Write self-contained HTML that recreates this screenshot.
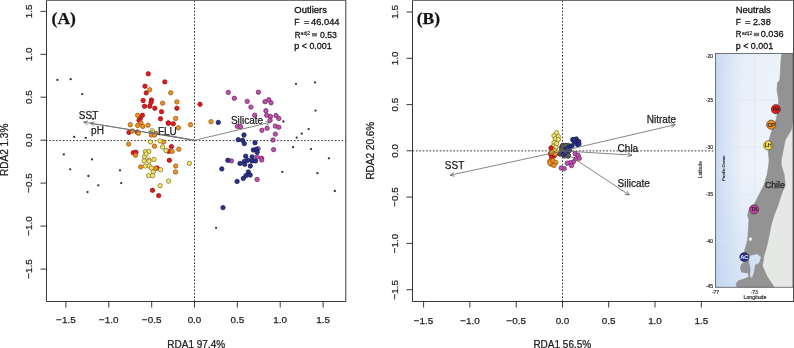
<!DOCTYPE html><html><head><meta charset="utf-8"><style>html,body{margin:0;padding:0;background:#fff;overflow:hidden;width:794px;height:348px;}svg{display:block;will-change:transform;}text{font-family:"Liberation Sans",sans-serif;stroke:#222;stroke-width:0.25;}</style></head><body>
<svg width="794" height="348" viewBox="0 0 794 348">
<rect width="794" height="348" fill="#fff"/>
<line x1="46.5" y1="140.6" x2="345.8" y2="140.6" stroke="#3a3a3a" stroke-width="1" stroke-dasharray="1.7 1.7" stroke-dashoffset="0.75"/>
<line x1="194.5" y1="0.5" x2="194.5" y2="301.5" stroke="#3a3a3a" stroke-width="1" stroke-dasharray="1.7 1.7"/>
<circle cx="57.4" cy="79.9" r="1.15" fill="#333"/>
<circle cx="70.7" cy="79.2" r="1.15" fill="#333"/>
<circle cx="82.2" cy="94.1" r="1.15" fill="#333"/>
<circle cx="93.0" cy="118.8" r="1.15" fill="#333"/>
<circle cx="74.2" cy="136.9" r="1.15" fill="#333"/>
<circle cx="85.8" cy="137.8" r="1.15" fill="#333"/>
<circle cx="63.8" cy="154.4" r="1.15" fill="#333"/>
<circle cx="92.0" cy="159.4" r="1.15" fill="#333"/>
<circle cx="70.2" cy="169.3" r="1.15" fill="#333"/>
<circle cx="120.0" cy="170.3" r="1.15" fill="#333"/>
<circle cx="88.4" cy="176.0" r="1.15" fill="#333"/>
<circle cx="98.3" cy="185.3" r="1.15" fill="#333"/>
<circle cx="121.2" cy="183.1" r="1.15" fill="#333"/>
<circle cx="87.5" cy="192.1" r="1.15" fill="#333"/>
<circle cx="216.1" cy="227.8" r="1.15" fill="#333"/>
<circle cx="296.0" cy="83.8" r="1.15" fill="#333"/>
<circle cx="315.0" cy="82.4" r="1.15" fill="#333"/>
<circle cx="315.5" cy="110.6" r="1.15" fill="#333"/>
<circle cx="283.4" cy="121.5" r="1.15" fill="#333"/>
<circle cx="308.7" cy="129.1" r="1.15" fill="#333"/>
<circle cx="301.8" cy="133.7" r="1.15" fill="#333"/>
<circle cx="296.7" cy="137.6" r="1.15" fill="#333"/>
<circle cx="293.0" cy="147.2" r="1.15" fill="#333"/>
<circle cx="311.0" cy="149.1" r="1.15" fill="#333"/>
<circle cx="328.9" cy="158.3" r="1.15" fill="#333"/>
<circle cx="282.3" cy="171.8" r="1.15" fill="#333"/>
<circle cx="317.4" cy="173.2" r="1.15" fill="#333"/>
<circle cx="334.8" cy="191.0" r="1.15" fill="#333"/>
<circle cx="148.3" cy="73.8" r="2.2" fill="#e5171f" stroke="#8a1a14" stroke-width="0.75"/>
<circle cx="164.8" cy="81.9" r="2.2" fill="#e5171f" stroke="#8a1a14" stroke-width="0.75"/>
<circle cx="145.0" cy="86.2" r="2.2" fill="#e5171f" stroke="#8a1a14" stroke-width="0.75"/>
<circle cx="146.2" cy="92.9" r="2.2" fill="#e5171f" stroke="#8a1a14" stroke-width="0.75"/>
<circle cx="143.1" cy="100.5" r="2.2" fill="#e5171f" stroke="#8a1a14" stroke-width="0.75"/>
<circle cx="151.4" cy="100.0" r="2.2" fill="#e5171f" stroke="#8a1a14" stroke-width="0.75"/>
<circle cx="151.0" cy="102.5" r="2.2" fill="#e5171f" stroke="#8a1a14" stroke-width="0.75"/>
<circle cx="144.5" cy="106.2" r="2.2" fill="#e5171f" stroke="#8a1a14" stroke-width="0.75"/>
<circle cx="149.7" cy="106.2" r="2.2" fill="#e5171f" stroke="#8a1a14" stroke-width="0.75"/>
<circle cx="154.8" cy="108.3" r="2.2" fill="#e5171f" stroke="#8a1a14" stroke-width="0.75"/>
<circle cx="161.5" cy="111.7" r="2.2" fill="#e5171f" stroke="#8a1a14" stroke-width="0.75"/>
<circle cx="142.4" cy="115.3" r="2.2" fill="#e5171f" stroke="#8a1a14" stroke-width="0.75"/>
<circle cx="160.5" cy="118.8" r="2.2" fill="#e5171f" stroke="#8a1a14" stroke-width="0.75"/>
<circle cx="140.2" cy="118.6" r="2.2" fill="#e5171f" stroke="#8a1a14" stroke-width="0.75"/>
<circle cx="139.0" cy="120.3" r="2.2" fill="#e5171f" stroke="#8a1a14" stroke-width="0.75"/>
<circle cx="168.3" cy="122.9" r="2.2" fill="#e5171f" stroke="#8a1a14" stroke-width="0.75"/>
<circle cx="176.9" cy="108.3" r="2.2" fill="#e5171f" stroke="#8a1a14" stroke-width="0.75"/>
<circle cx="200.0" cy="104.3" r="2.2" fill="#e5171f" stroke="#8a1a14" stroke-width="0.75"/>
<circle cx="129.0" cy="132.4" r="2.2" fill="#e5171f" stroke="#8a1a14" stroke-width="0.75"/>
<circle cx="137.2" cy="132.0" r="2.2" fill="#e5171f" stroke="#8a1a14" stroke-width="0.75"/>
<circle cx="168.4" cy="123.3" r="2.2" fill="#e5171f" stroke="#8a1a14" stroke-width="0.75"/>
<circle cx="173.3" cy="123.8" r="2.2" fill="#e5171f" stroke="#8a1a14" stroke-width="0.75"/>
<circle cx="171.4" cy="146.6" r="2.2" fill="#e5171f" stroke="#8a1a14" stroke-width="0.75"/>
<circle cx="168.6" cy="151.4" r="2.2" fill="#e5171f" stroke="#8a1a14" stroke-width="0.75"/>
<circle cx="133.3" cy="152.8" r="2.2" fill="#e5171f" stroke="#8a1a14" stroke-width="0.75"/>
<circle cx="135.9" cy="152.2" r="2.2" fill="#e5171f" stroke="#8a1a14" stroke-width="0.75"/>
<circle cx="169.3" cy="160.3" r="2.2" fill="#e5171f" stroke="#8a1a14" stroke-width="0.75"/>
<circle cx="157.1" cy="168.0" r="2.2" fill="#e5171f" stroke="#8a1a14" stroke-width="0.75"/>
<circle cx="152.5" cy="190.3" r="2.2" fill="#e5171f" stroke="#8a1a14" stroke-width="0.75"/>
<circle cx="158.7" cy="195.6" r="2.2" fill="#e5171f" stroke="#8a1a14" stroke-width="0.75"/>
<circle cx="149.7" cy="89.7" r="2.2" fill="#f5901d" stroke="#8c5a1a" stroke-width="0.75"/>
<circle cx="170.7" cy="92.8" r="2.2" fill="#f5901d" stroke="#8c5a1a" stroke-width="0.75"/>
<circle cx="162.6" cy="103.1" r="2.2" fill="#f5901d" stroke="#8c5a1a" stroke-width="0.75"/>
<circle cx="176.9" cy="101.9" r="2.2" fill="#f5901d" stroke="#8c5a1a" stroke-width="0.75"/>
<circle cx="137.6" cy="115.3" r="2.2" fill="#f5901d" stroke="#8c5a1a" stroke-width="0.75"/>
<circle cx="175.6" cy="118.5" r="2.2" fill="#f5901d" stroke="#8c5a1a" stroke-width="0.75"/>
<circle cx="130.3" cy="124.7" r="2.2" fill="#f5901d" stroke="#8c5a1a" stroke-width="0.75"/>
<circle cx="137.6" cy="125.5" r="2.2" fill="#f5901d" stroke="#8c5a1a" stroke-width="0.75"/>
<circle cx="141.0" cy="123.0" r="2.2" fill="#f5901d" stroke="#8c5a1a" stroke-width="0.75"/>
<circle cx="142.8" cy="126.4" r="2.2" fill="#f5901d" stroke="#8c5a1a" stroke-width="0.75"/>
<circle cx="148.0" cy="125.2" r="2.2" fill="#f5901d" stroke="#8c5a1a" stroke-width="0.75"/>
<circle cx="132.4" cy="131.0" r="2.2" fill="#f5901d" stroke="#8c5a1a" stroke-width="0.75"/>
<circle cx="138.4" cy="133.3" r="2.2" fill="#f5901d" stroke="#8c5a1a" stroke-width="0.75"/>
<circle cx="151.4" cy="135.0" r="2.2" fill="#f5901d" stroke="#8c5a1a" stroke-width="0.75"/>
<circle cx="155.7" cy="133.3" r="2.2" fill="#f5901d" stroke="#8c5a1a" stroke-width="0.75"/>
<circle cx="154.5" cy="135.0" r="2.2" fill="#f5901d" stroke="#8c5a1a" stroke-width="0.75"/>
<circle cx="163.4" cy="141.9" r="2.2" fill="#f5901d" stroke="#8c5a1a" stroke-width="0.75"/>
<circle cx="128.6" cy="144.1" r="2.2" fill="#f5901d" stroke="#8c5a1a" stroke-width="0.75"/>
<circle cx="154.5" cy="146.2" r="2.2" fill="#f5901d" stroke="#8c5a1a" stroke-width="0.75"/>
<circle cx="135.5" cy="155.2" r="2.2" fill="#f5901d" stroke="#8c5a1a" stroke-width="0.75"/>
<circle cx="140.7" cy="166.9" r="2.2" fill="#f5901d" stroke="#8c5a1a" stroke-width="0.75"/>
<circle cx="155.7" cy="168.3" r="2.2" fill="#f5901d" stroke="#8c5a1a" stroke-width="0.75"/>
<circle cx="178.4" cy="127.8" r="2.2" fill="#f5901d" stroke="#8c5a1a" stroke-width="0.75"/>
<circle cx="190.5" cy="124.7" r="2.2" fill="#f5901d" stroke="#8c5a1a" stroke-width="0.75"/>
<circle cx="211.0" cy="121.7" r="2.2" fill="#f5901d" stroke="#8c5a1a" stroke-width="0.75"/>
<circle cx="178.8" cy="149.3" r="2.2" fill="#f5901d" stroke="#8c5a1a" stroke-width="0.75"/>
<circle cx="172.2" cy="151.4" r="2.2" fill="#f5901d" stroke="#8c5a1a" stroke-width="0.75"/>
<circle cx="175.7" cy="166.0" r="2.2" fill="#f5901d" stroke="#8c5a1a" stroke-width="0.75"/>
<circle cx="175.5" cy="172.0" r="2.2" fill="#f5901d" stroke="#8c5a1a" stroke-width="0.75"/>
<circle cx="152.2" cy="130.7" r="2.2" fill="#f5e56c" stroke="#7d7428" stroke-width="0.75"/>
<circle cx="150.5" cy="141.9" r="2.2" fill="#f5e56c" stroke="#7d7428" stroke-width="0.75"/>
<circle cx="160.0" cy="141.0" r="2.2" fill="#f5e56c" stroke="#7d7428" stroke-width="0.75"/>
<circle cx="162.6" cy="147.0" r="2.2" fill="#f5e56c" stroke="#7d7428" stroke-width="0.75"/>
<circle cx="166.0" cy="150.5" r="2.2" fill="#f5e56c" stroke="#7d7428" stroke-width="0.75"/>
<circle cx="145.3" cy="151.7" r="2.2" fill="#f5e56c" stroke="#7d7428" stroke-width="0.75"/>
<circle cx="148.8" cy="151.4" r="2.2" fill="#f5e56c" stroke="#7d7428" stroke-width="0.75"/>
<circle cx="144.5" cy="156.6" r="2.2" fill="#f5e56c" stroke="#7d7428" stroke-width="0.75"/>
<circle cx="146.2" cy="154.0" r="2.2" fill="#f5e56c" stroke="#7d7428" stroke-width="0.75"/>
<circle cx="148.8" cy="160.0" r="2.2" fill="#f5e56c" stroke="#7d7428" stroke-width="0.75"/>
<circle cx="154.0" cy="159.5" r="2.2" fill="#f5e56c" stroke="#7d7428" stroke-width="0.75"/>
<circle cx="144.1" cy="160.9" r="2.2" fill="#f5e56c" stroke="#7d7428" stroke-width="0.75"/>
<circle cx="145.3" cy="166.0" r="2.2" fill="#f5e56c" stroke="#7d7428" stroke-width="0.75"/>
<circle cx="149.3" cy="166.0" r="2.2" fill="#f5e56c" stroke="#7d7428" stroke-width="0.75"/>
<circle cx="189.4" cy="163.4" r="2.2" fill="#f5e56c" stroke="#7d7428" stroke-width="0.75"/>
<circle cx="149.0" cy="161.1" r="2.2" fill="#f5e56c" stroke="#7d7428" stroke-width="0.75"/>
<circle cx="151.4" cy="168.0" r="2.2" fill="#f5e56c" stroke="#7d7428" stroke-width="0.75"/>
<circle cx="160.6" cy="169.7" r="2.2" fill="#f5e56c" stroke="#7d7428" stroke-width="0.75"/>
<circle cx="153.2" cy="172.0" r="2.2" fill="#f5e56c" stroke="#7d7428" stroke-width="0.75"/>
<circle cx="148.6" cy="175.6" r="2.2" fill="#f5e56c" stroke="#7d7428" stroke-width="0.75"/>
<circle cx="152.5" cy="175.6" r="2.2" fill="#f5e56c" stroke="#7d7428" stroke-width="0.75"/>
<circle cx="168.6" cy="181.1" r="2.2" fill="#f5e56c" stroke="#7d7428" stroke-width="0.75"/>
<circle cx="160.1" cy="185.7" r="2.2" fill="#f5e56c" stroke="#7d7428" stroke-width="0.75"/>
<circle cx="228.3" cy="92.4" r="2.2" fill="#c14fae" stroke="#6e2a66" stroke-width="0.75"/>
<circle cx="258.4" cy="92.2" r="2.2" fill="#c14fae" stroke="#6e2a66" stroke-width="0.75"/>
<circle cx="234.3" cy="98.3" r="2.2" fill="#c14fae" stroke="#6e2a66" stroke-width="0.75"/>
<circle cx="247.2" cy="101.4" r="2.2" fill="#c14fae" stroke="#6e2a66" stroke-width="0.75"/>
<circle cx="265.0" cy="101.7" r="2.2" fill="#c14fae" stroke="#6e2a66" stroke-width="0.75"/>
<circle cx="268.8" cy="99.7" r="2.2" fill="#c14fae" stroke="#6e2a66" stroke-width="0.75"/>
<circle cx="271.0" cy="102.8" r="2.2" fill="#c14fae" stroke="#6e2a66" stroke-width="0.75"/>
<circle cx="250.9" cy="107.1" r="2.2" fill="#c14fae" stroke="#6e2a66" stroke-width="0.75"/>
<circle cx="265.9" cy="110.7" r="2.2" fill="#c14fae" stroke="#6e2a66" stroke-width="0.75"/>
<circle cx="254.7" cy="115.2" r="2.2" fill="#c14fae" stroke="#6e2a66" stroke-width="0.75"/>
<circle cx="266.7" cy="115.2" r="2.2" fill="#c14fae" stroke="#6e2a66" stroke-width="0.75"/>
<circle cx="270.5" cy="116.4" r="2.2" fill="#c14fae" stroke="#6e2a66" stroke-width="0.75"/>
<circle cx="276.0" cy="115.6" r="2.2" fill="#c14fae" stroke="#6e2a66" stroke-width="0.75"/>
<circle cx="278.8" cy="118.5" r="2.2" fill="#c14fae" stroke="#6e2a66" stroke-width="0.75"/>
<circle cx="270.1" cy="120.3" r="2.2" fill="#c14fae" stroke="#6e2a66" stroke-width="0.75"/>
<circle cx="237.4" cy="126.4" r="2.2" fill="#c14fae" stroke="#6e2a66" stroke-width="0.75"/>
<circle cx="240.5" cy="126.7" r="2.2" fill="#c14fae" stroke="#6e2a66" stroke-width="0.75"/>
<circle cx="261.9" cy="130.3" r="2.2" fill="#c14fae" stroke="#6e2a66" stroke-width="0.75"/>
<circle cx="267.1" cy="128.2" r="2.2" fill="#c14fae" stroke="#6e2a66" stroke-width="0.75"/>
<circle cx="275.3" cy="126.1" r="2.2" fill="#c14fae" stroke="#6e2a66" stroke-width="0.75"/>
<circle cx="278.8" cy="127.2" r="2.2" fill="#c14fae" stroke="#6e2a66" stroke-width="0.75"/>
<circle cx="275.3" cy="134.1" r="2.2" fill="#c14fae" stroke="#6e2a66" stroke-width="0.75"/>
<circle cx="273.0" cy="140.0" r="2.2" fill="#c14fae" stroke="#6e2a66" stroke-width="0.75"/>
<circle cx="258.1" cy="148.8" r="2.2" fill="#c14fae" stroke="#6e2a66" stroke-width="0.75"/>
<circle cx="273.6" cy="149.6" r="2.2" fill="#c14fae" stroke="#6e2a66" stroke-width="0.75"/>
<circle cx="261.6" cy="158.3" r="2.2" fill="#c14fae" stroke="#6e2a66" stroke-width="0.75"/>
<circle cx="257.2" cy="156.9" r="2.2" fill="#c14fae" stroke="#6e2a66" stroke-width="0.75"/>
<circle cx="231.4" cy="160.9" r="2.2" fill="#c14fae" stroke="#6e2a66" stroke-width="0.75"/>
<circle cx="257.1" cy="179.5" r="2.2" fill="#c14fae" stroke="#6e2a66" stroke-width="0.75"/>
<circle cx="261.7" cy="160.0" r="2.2" fill="#c14fae" stroke="#6e2a66" stroke-width="0.75"/>
<circle cx="218.3" cy="122.4" r="2.2" fill="#2b3190" stroke="#181b4a" stroke-width="0.75"/>
<circle cx="244.0" cy="135.0" r="2.2" fill="#2b3190" stroke="#181b4a" stroke-width="0.75"/>
<circle cx="238.3" cy="139.7" r="2.2" fill="#2b3190" stroke="#181b4a" stroke-width="0.75"/>
<circle cx="242.6" cy="140.2" r="2.2" fill="#2b3190" stroke="#181b4a" stroke-width="0.75"/>
<circle cx="244.3" cy="143.6" r="2.2" fill="#2b3190" stroke="#181b4a" stroke-width="0.75"/>
<circle cx="255.0" cy="142.8" r="2.2" fill="#2b3190" stroke="#181b4a" stroke-width="0.75"/>
<circle cx="253.3" cy="150.0" r="2.2" fill="#2b3190" stroke="#181b4a" stroke-width="0.75"/>
<circle cx="256.4" cy="149.3" r="2.2" fill="#2b3190" stroke="#181b4a" stroke-width="0.75"/>
<circle cx="257.2" cy="152.2" r="2.2" fill="#2b3190" stroke="#181b4a" stroke-width="0.75"/>
<circle cx="245.7" cy="156.2" r="2.2" fill="#2b3190" stroke="#181b4a" stroke-width="0.75"/>
<circle cx="252.1" cy="156.9" r="2.2" fill="#2b3190" stroke="#181b4a" stroke-width="0.75"/>
<circle cx="247.8" cy="160.3" r="2.2" fill="#2b3190" stroke="#181b4a" stroke-width="0.75"/>
<circle cx="252.1" cy="160.9" r="2.2" fill="#2b3190" stroke="#181b4a" stroke-width="0.75"/>
<circle cx="255.5" cy="160.9" r="2.2" fill="#2b3190" stroke="#181b4a" stroke-width="0.75"/>
<circle cx="244.3" cy="161.4" r="2.2" fill="#2b3190" stroke="#181b4a" stroke-width="0.75"/>
<circle cx="227.9" cy="160.3" r="2.2" fill="#2b3190" stroke="#181b4a" stroke-width="0.75"/>
<circle cx="240.0" cy="163.4" r="2.2" fill="#2b3190" stroke="#181b4a" stroke-width="0.75"/>
<circle cx="244.7" cy="164.3" r="2.2" fill="#2b3190" stroke="#181b4a" stroke-width="0.75"/>
<circle cx="250.3" cy="166.0" r="2.2" fill="#2b3190" stroke="#181b4a" stroke-width="0.75"/>
<circle cx="221.8" cy="168.9" r="2.2" fill="#2b3190" stroke="#181b4a" stroke-width="0.75"/>
<circle cx="248.3" cy="172.0" r="2.2" fill="#2b3190" stroke="#181b4a" stroke-width="0.75"/>
<circle cx="246.0" cy="175.6" r="2.2" fill="#2b3190" stroke="#181b4a" stroke-width="0.75"/>
<circle cx="250.2" cy="175.0" r="2.2" fill="#2b3190" stroke="#181b4a" stroke-width="0.75"/>
<circle cx="243.3" cy="178.4" r="2.2" fill="#2b3190" stroke="#181b4a" stroke-width="0.75"/>
<circle cx="237.1" cy="181.4" r="2.2" fill="#2b3190" stroke="#181b4a" stroke-width="0.75"/>
<circle cx="223.0" cy="207.6" r="2.2" fill="#2b3190" stroke="#181b4a" stroke-width="0.75"/>
<line x1="194.5" y1="140.3" x2="83.6" y2="122.1" stroke="#707070" stroke-width="0.85"/>
<line x1="83.6" y1="122.1" x2="87.40" y2="124.69" stroke="#707070" stroke-width="0.9"/>
<line x1="83.6" y1="122.1" x2="88.03" y2="120.86" stroke="#707070" stroke-width="0.9"/>
<line x1="194.5" y1="140.3" x2="90.1" y2="123.1" stroke="#707070" stroke-width="0.85"/>
<line x1="90.1" y1="123.1" x2="93.90" y2="125.70" stroke="#707070" stroke-width="0.9"/>
<line x1="90.1" y1="123.1" x2="94.53" y2="121.86" stroke="#707070" stroke-width="0.9"/>
<line x1="194.5" y1="140.3" x2="148.6" y2="131.8" stroke="#707070" stroke-width="0.85"/>
<line x1="148.6" y1="131.8" x2="152.35" y2="134.47" stroke="#707070" stroke-width="0.9"/>
<line x1="148.6" y1="131.8" x2="153.05" y2="130.65" stroke="#707070" stroke-width="0.9"/>
<line x1="194.5" y1="140.3" x2="270.2" y2="122.4" stroke="#707070" stroke-width="0.85"/>
<line x1="270.2" y1="122.4" x2="265.70" y2="121.47" stroke="#707070" stroke-width="0.9"/>
<line x1="270.2" y1="122.4" x2="266.59" y2="125.25" stroke="#707070" stroke-width="0.9"/>
<text x="78.8" y="119.1" font-size="10" text-anchor="start" fill="#222" >SST</text>
<text x="91.1" y="133.8" font-size="10" text-anchor="start" fill="#222" >pH</text>
<text x="157.9" y="134.8" font-size="10" text-anchor="start" fill="#222" >FLU</text>
<text x="230.9" y="124.2" font-size="10" text-anchor="start" fill="#222" >Silicate</text>
<path d="M46.5,0.5 V301.5 H345.8 V0.5" fill="none" stroke="#383838" stroke-width="1"/>
<line x1="46.0" y1="0.5" x2="346.3" y2="0.5" stroke="#707070" stroke-width="1.1"/>
<line x1="65.9" y1="301.5" x2="65.9" y2="307.5" stroke="#383838" stroke-width="1"/>
<line x1="46.5" y1="269.1" x2="40.5" y2="269.1" stroke="#383838" stroke-width="1"/>
<text x="65.9" y="323.4" font-size="9.9" text-anchor="middle" fill="#222" >−1.5</text>
<text x="0" y="0" font-size="9.9" text-anchor="middle" fill="#222" transform="translate(32.1,269.1) rotate(-90)">−1.5</text>
<line x1="108.8" y1="301.5" x2="108.8" y2="307.5" stroke="#383838" stroke-width="1"/>
<line x1="46.5" y1="226.1" x2="40.5" y2="226.1" stroke="#383838" stroke-width="1"/>
<text x="108.8" y="323.4" font-size="9.9" text-anchor="middle" fill="#222" >−1.0</text>
<text x="0" y="0" font-size="9.9" text-anchor="middle" fill="#222" transform="translate(32.1,226.1) rotate(-90)">−1.0</text>
<line x1="151.7" y1="301.5" x2="151.7" y2="307.5" stroke="#383838" stroke-width="1"/>
<line x1="46.5" y1="183.1" x2="40.5" y2="183.1" stroke="#383838" stroke-width="1"/>
<text x="151.7" y="323.4" font-size="9.9" text-anchor="middle" fill="#222" >−0.5</text>
<text x="0" y="0" font-size="9.9" text-anchor="middle" fill="#222" transform="translate(32.1,183.1) rotate(-90)">−0.5</text>
<line x1="194.5" y1="301.5" x2="194.5" y2="307.5" stroke="#383838" stroke-width="1"/>
<line x1="46.5" y1="140.2" x2="40.5" y2="140.2" stroke="#383838" stroke-width="1"/>
<text x="194.5" y="323.4" font-size="9.9" text-anchor="middle" fill="#222" >0.0</text>
<text x="0" y="0" font-size="9.9" text-anchor="middle" fill="#222" transform="translate(32.1,140.2) rotate(-90)">0.0</text>
<line x1="237.3" y1="301.5" x2="237.3" y2="307.5" stroke="#383838" stroke-width="1"/>
<line x1="46.5" y1="97.2" x2="40.5" y2="97.2" stroke="#383838" stroke-width="1"/>
<text x="237.3" y="323.4" font-size="9.9" text-anchor="middle" fill="#222" >0.5</text>
<text x="0" y="0" font-size="9.9" text-anchor="middle" fill="#222" transform="translate(32.1,97.2) rotate(-90)">0.5</text>
<line x1="280.2" y1="301.5" x2="280.2" y2="307.5" stroke="#383838" stroke-width="1"/>
<line x1="46.5" y1="54.3" x2="40.5" y2="54.3" stroke="#383838" stroke-width="1"/>
<text x="280.2" y="323.4" font-size="9.9" text-anchor="middle" fill="#222" >1.0</text>
<text x="0" y="0" font-size="9.9" text-anchor="middle" fill="#222" transform="translate(32.1,54.3) rotate(-90)">1.0</text>
<line x1="323.1" y1="301.5" x2="323.1" y2="307.5" stroke="#383838" stroke-width="1"/>
<line x1="46.5" y1="11.3" x2="40.5" y2="11.3" stroke="#383838" stroke-width="1"/>
<text x="323.1" y="323.4" font-size="9.9" text-anchor="middle" fill="#222" >1.5</text>
<text x="0" y="0" font-size="9.9" text-anchor="middle" fill="#222" transform="translate(32.1,11.3) rotate(-90)">1.5</text>
<text x="0" y="0" font-size="10" text-anchor="middle" fill="#222" transform="translate(8.0,149.8) rotate(-90)">RDA2 1.3%</text>
<text x="196.2" y="347.9" font-size="10" text-anchor="middle" fill="#222" >RDA1 97.4%</text>
<text x="51.6" y="23.6" font-size="17.5" font-weight="bold" fill="#111" style="font-family:'Liberation Serif',serif">(A)</text>
<text x="294.3" y="13.4" font-size="9.8" textLength="32.6" lengthAdjust="spacingAndGlyphs" fill="#111" style="stroke:#111;stroke-width:0.3">Outliers</text>
<text x="294.3" y="25.3" font-size="9.8" textLength="5.3" lengthAdjust="spacingAndGlyphs" fill="#111" style="stroke:#111;stroke-width:0.3">F</text>
<text x="304" y="25.3" font-size="9.8" textLength="5.2" lengthAdjust="spacingAndGlyphs" fill="#111" style="stroke:#111;stroke-width:0.3">=</text>
<text x="311" y="25.3" font-size="9.8" textLength="28.5" lengthAdjust="spacingAndGlyphs" fill="#111" style="stroke:#111;stroke-width:0.3">46.044</text>
<text x="294.7" y="37.6" font-size="9.8" textLength="5.7" lengthAdjust="spacingAndGlyphs" fill="#111" style="stroke:#111;stroke-width:0.3">R</text>
<text x="300.6" y="34.7" font-size="5.2" textLength="9.6" lengthAdjust="spacingAndGlyphs" fill="#111" style="stroke:#111;stroke-width:0.1">adj2</text>
<rect x="312" y="33" width="5" height="3.4" fill="#777"/>
<text x="319.9" y="37.6" font-size="9.8" textLength="17.0" lengthAdjust="spacingAndGlyphs" fill="#111" style="stroke:#111;stroke-width:0.3">0.53</text>
<text x="294.3" y="49.3" font-size="9.8" textLength="37.4" lengthAdjust="spacingAndGlyphs" fill="#111" style="stroke:#111;stroke-width:0.3">p &lt; 0.001</text>
<line x1="412.5" y1="150.9" x2="715.5" y2="150.9" stroke="#3a3a3a" stroke-width="1" stroke-dasharray="1.7 1.7"/>
<line x1="562.5" y1="0.5" x2="562.5" y2="301.5" stroke="#3a3a3a" stroke-width="1" stroke-dasharray="1.7 1.7"/>
<circle cx="556.5" cy="132.8" r="2.2" fill="#f5e56c" stroke="#7d7428" stroke-width="0.75"/>
<circle cx="554.0" cy="135.8" r="2.2" fill="#f5e56c" stroke="#7d7428" stroke-width="0.75"/>
<circle cx="558.3" cy="136.4" r="2.2" fill="#f5e56c" stroke="#7d7428" stroke-width="0.75"/>
<circle cx="555.3" cy="138.9" r="2.2" fill="#f5e56c" stroke="#7d7428" stroke-width="0.75"/>
<circle cx="558.3" cy="139.5" r="2.2" fill="#f5e56c" stroke="#7d7428" stroke-width="0.75"/>
<circle cx="554.0" cy="142.5" r="2.2" fill="#f5e56c" stroke="#7d7428" stroke-width="0.75"/>
<circle cx="556.5" cy="143.7" r="2.2" fill="#f5e56c" stroke="#7d7428" stroke-width="0.75"/>
<circle cx="553.4" cy="146.1" r="2.2" fill="#f5e56c" stroke="#7d7428" stroke-width="0.75"/>
<circle cx="555.9" cy="147.3" r="2.2" fill="#f5e56c" stroke="#7d7428" stroke-width="0.75"/>
<circle cx="552.8" cy="149.1" r="2.2" fill="#f5e56c" stroke="#7d7428" stroke-width="0.75"/>
<circle cx="555.3" cy="150.9" r="2.2" fill="#f5e56c" stroke="#7d7428" stroke-width="0.75"/>
<circle cx="557.0" cy="152.1" r="2.2" fill="#f5e56c" stroke="#7d7428" stroke-width="0.75"/>
<circle cx="552.2" cy="151.5" r="2.2" fill="#f5e56c" stroke="#7d7428" stroke-width="0.75"/>
<circle cx="551.0" cy="147.9" r="2.2" fill="#e5171f" stroke="#8a1a14" stroke-width="0.75"/>
<circle cx="550.4" cy="153.9" r="2.2" fill="#e5171f" stroke="#8a1a14" stroke-width="0.75"/>
<circle cx="553.4" cy="156.3" r="2.2" fill="#e5171f" stroke="#8a1a14" stroke-width="0.75"/>
<circle cx="551.6" cy="157.6" r="2.2" fill="#e5171f" stroke="#8a1a14" stroke-width="0.75"/>
<circle cx="555.0" cy="155.0" r="2.2" fill="#e5171f" stroke="#8a1a14" stroke-width="0.75"/>
<circle cx="551.6" cy="152.7" r="2.2" fill="#f5901d" stroke="#8c5a1a" stroke-width="0.75"/>
<circle cx="555.3" cy="153.9" r="2.2" fill="#f5901d" stroke="#8c5a1a" stroke-width="0.75"/>
<circle cx="549.8" cy="161.2" r="2.2" fill="#f5901d" stroke="#8c5a1a" stroke-width="0.75"/>
<circle cx="552.8" cy="160.6" r="2.2" fill="#f5901d" stroke="#8c5a1a" stroke-width="0.75"/>
<circle cx="555.9" cy="162.4" r="2.2" fill="#f5901d" stroke="#8c5a1a" stroke-width="0.75"/>
<circle cx="551.0" cy="164.2" r="2.2" fill="#f5901d" stroke="#8c5a1a" stroke-width="0.75"/>
<circle cx="554.0" cy="165.4" r="2.2" fill="#f5901d" stroke="#8c5a1a" stroke-width="0.75"/>
<circle cx="549.8" cy="163.0" r="2.2" fill="#f5901d" stroke="#8c5a1a" stroke-width="0.75"/>
<circle cx="562.3" cy="151.0" r="2.2" fill="#5e5e5e" stroke="#3c3c3c" stroke-width="0.75"/>
<circle cx="563.5" cy="151.6" r="2.2" fill="#5e5e5e" stroke="#3c3c3c" stroke-width="0.75"/>
<circle cx="565.9" cy="145.7" r="2.2" fill="#5e5e5e" stroke="#3c3c3c" stroke-width="0.75"/>
<circle cx="560.1" cy="154.2" r="2.2" fill="#5e5e5e" stroke="#3c3c3c" stroke-width="0.75"/>
<circle cx="562.5" cy="147.6" r="2.2" fill="#5e5e5e" stroke="#3c3c3c" stroke-width="0.75"/>
<circle cx="569.5" cy="150.2" r="2.2" fill="#5e5e5e" stroke="#3c3c3c" stroke-width="0.75"/>
<circle cx="567.9" cy="150.2" r="2.2" fill="#5e5e5e" stroke="#3c3c3c" stroke-width="0.75"/>
<circle cx="566.1" cy="146.7" r="2.2" fill="#5e5e5e" stroke="#3c3c3c" stroke-width="0.75"/>
<circle cx="566.0" cy="154.5" r="2.2" fill="#5e5e5e" stroke="#3c3c3c" stroke-width="0.75"/>
<circle cx="565.0" cy="153.2" r="2.2" fill="#5e5e5e" stroke="#3c3c3c" stroke-width="0.75"/>
<circle cx="566.4" cy="145.7" r="2.2" fill="#5e5e5e" stroke="#3c3c3c" stroke-width="0.75"/>
<circle cx="567.2" cy="151.5" r="2.2" fill="#5e5e5e" stroke="#3c3c3c" stroke-width="0.75"/>
<circle cx="562.9" cy="145.3" r="2.2" fill="#5e5e5e" stroke="#3c3c3c" stroke-width="0.75"/>
<circle cx="568.2" cy="150.2" r="2.2" fill="#5e5e5e" stroke="#3c3c3c" stroke-width="0.75"/>
<circle cx="566.8" cy="154.7" r="2.2" fill="#5e5e5e" stroke="#3c3c3c" stroke-width="0.75"/>
<circle cx="566.8" cy="155.1" r="2.2" fill="#5e5e5e" stroke="#3c3c3c" stroke-width="0.75"/>
<circle cx="563.8" cy="153.8" r="2.2" fill="#5e5e5e" stroke="#3c3c3c" stroke-width="0.75"/>
<circle cx="564.2" cy="155.3" r="2.2" fill="#5e5e5e" stroke="#3c3c3c" stroke-width="0.75"/>
<circle cx="568.3" cy="146.1" r="2.2" fill="#5e5e5e" stroke="#3c3c3c" stroke-width="0.75"/>
<circle cx="561.3" cy="147.4" r="2.2" fill="#5e5e5e" stroke="#3c3c3c" stroke-width="0.75"/>
<circle cx="569.2" cy="149.8" r="2.2" fill="#5e5e5e" stroke="#3c3c3c" stroke-width="0.75"/>
<circle cx="566.0" cy="148.3" r="2.2" fill="#5e5e5e" stroke="#3c3c3c" stroke-width="0.75"/>
<circle cx="564.8" cy="149.2" r="2.2" fill="#5e5e5e" stroke="#3c3c3c" stroke-width="0.75"/>
<circle cx="563.3" cy="151.4" r="2.2" fill="#5e5e5e" stroke="#3c3c3c" stroke-width="0.75"/>
<circle cx="565.6" cy="154.9" r="2.2" fill="#5e5e5e" stroke="#3c3c3c" stroke-width="0.75"/>
<circle cx="566.5" cy="155.2" r="2.2" fill="#5e5e5e" stroke="#3c3c3c" stroke-width="0.75"/>
<circle cx="568.1" cy="155.9" r="2.2" fill="#5e5e5e" stroke="#3c3c3c" stroke-width="0.75"/>
<circle cx="566.4" cy="146.8" r="2.2" fill="#5e5e5e" stroke="#3c3c3c" stroke-width="0.75"/>
<circle cx="568.2" cy="155.6" r="2.2" fill="#5e5e5e" stroke="#3c3c3c" stroke-width="0.75"/>
<circle cx="568.6" cy="151.3" r="2.2" fill="#5e5e5e" stroke="#3c3c3c" stroke-width="0.75"/>
<circle cx="566.8" cy="147.3" r="2.2" fill="#5e5e5e" stroke="#3c3c3c" stroke-width="0.75"/>
<circle cx="567.9" cy="151.3" r="2.2" fill="#5e5e5e" stroke="#3c3c3c" stroke-width="0.75"/>
<circle cx="562.7" cy="145.7" r="2.2" fill="#5e5e5e" stroke="#3c3c3c" stroke-width="0.75"/>
<circle cx="568.1" cy="155.9" r="2.2" fill="#5e5e5e" stroke="#3c3c3c" stroke-width="0.75"/>
<circle cx="560.8" cy="153.8" r="2.2" fill="#5e5e5e" stroke="#3c3c3c" stroke-width="0.75"/>
<circle cx="563.9" cy="146.7" r="2.2" fill="#5e5e5e" stroke="#3c3c3c" stroke-width="0.75"/>
<circle cx="562.8" cy="153.5" r="2.2" fill="#5e5e5e" stroke="#3c3c3c" stroke-width="0.75"/>
<circle cx="568.3" cy="145.5" r="2.2" fill="#5e5e5e" stroke="#3c3c3c" stroke-width="0.75"/>
<circle cx="565.8" cy="145.5" r="2.2" fill="#5e5e5e" stroke="#3c3c3c" stroke-width="0.75"/>
<circle cx="566.8" cy="148.6" r="2.2" fill="#5e5e5e" stroke="#3c3c3c" stroke-width="0.75"/>
<circle cx="568.4" cy="155.8" r="2.2" fill="#5e5e5e" stroke="#3c3c3c" stroke-width="0.75"/>
<circle cx="564.8" cy="156.0" r="2.2" fill="#5e5e5e" stroke="#3c3c3c" stroke-width="0.75"/>
<circle cx="562.9" cy="145.8" r="2.2" fill="#5e5e5e" stroke="#3c3c3c" stroke-width="0.75"/>
<circle cx="565.7" cy="145.3" r="2.2" fill="#5e5e5e" stroke="#3c3c3c" stroke-width="0.75"/>
<circle cx="561.9" cy="149.5" r="2.2" fill="#5e5e5e" stroke="#3c3c3c" stroke-width="0.75"/>
<circle cx="572.7" cy="139.7" r="2.2" fill="#2b3190" stroke="#181b4a" stroke-width="0.75"/>
<circle cx="576.3" cy="139.0" r="2.2" fill="#2b3190" stroke="#181b4a" stroke-width="0.75"/>
<circle cx="578.7" cy="141.5" r="2.2" fill="#2b3190" stroke="#181b4a" stroke-width="0.75"/>
<circle cx="574.5" cy="142.1" r="2.2" fill="#2b3190" stroke="#181b4a" stroke-width="0.75"/>
<circle cx="577.5" cy="144.5" r="2.2" fill="#2b3190" stroke="#181b4a" stroke-width="0.75"/>
<circle cx="572.1" cy="145.7" r="2.2" fill="#2b3190" stroke="#181b4a" stroke-width="0.75"/>
<circle cx="569.7" cy="146.9" r="2.2" fill="#2b3190" stroke="#181b4a" stroke-width="0.75"/>
<circle cx="567.2" cy="148.7" r="2.2" fill="#2b3190" stroke="#181b4a" stroke-width="0.75"/>
<circle cx="564.8" cy="151.7" r="2.2" fill="#2b3190" stroke="#181b4a" stroke-width="0.75"/>
<circle cx="563.6" cy="154.1" r="2.2" fill="#2b3190" stroke="#181b4a" stroke-width="0.75"/>
<circle cx="566.1" cy="152.1" r="2.2" fill="#2b3190" stroke="#181b4a" stroke-width="0.75"/>
<circle cx="574.0" cy="139.5" r="2.2" fill="#2b3190" stroke="#181b4a" stroke-width="0.75"/>
<circle cx="579.0" cy="144.0" r="2.2" fill="#2b3190" stroke="#181b4a" stroke-width="0.75"/>
<circle cx="575.1" cy="153.5" r="2.2" fill="#c14fae" stroke="#6e2a66" stroke-width="0.75"/>
<circle cx="578.1" cy="155.3" r="2.2" fill="#c14fae" stroke="#6e2a66" stroke-width="0.75"/>
<circle cx="579.3" cy="158.3" r="2.2" fill="#c14fae" stroke="#6e2a66" stroke-width="0.75"/>
<circle cx="575.7" cy="158.9" r="2.2" fill="#c14fae" stroke="#6e2a66" stroke-width="0.75"/>
<circle cx="573.3" cy="162.0" r="2.2" fill="#c14fae" stroke="#6e2a66" stroke-width="0.75"/>
<circle cx="570.3" cy="162.6" r="2.2" fill="#c14fae" stroke="#6e2a66" stroke-width="0.75"/>
<circle cx="567.2" cy="163.2" r="2.2" fill="#c14fae" stroke="#6e2a66" stroke-width="0.75"/>
<circle cx="571.5" cy="165.6" r="2.2" fill="#c14fae" stroke="#6e2a66" stroke-width="0.75"/>
<circle cx="564.2" cy="168.6" r="2.2" fill="#c14fae" stroke="#6e2a66" stroke-width="0.75"/>
<circle cx="561.2" cy="168.0" r="2.2" fill="#c14fae" stroke="#6e2a66" stroke-width="0.75"/>
<line x1="562.5" y1="150.9" x2="450.1" y2="175.2" stroke="#707070" stroke-width="0.85"/>
<line x1="450.1" y1="175.2" x2="454.59" y2="176.22" stroke="#707070" stroke-width="0.9"/>
<line x1="450.1" y1="175.2" x2="453.76" y2="172.42" stroke="#707070" stroke-width="0.9"/>
<line x1="562.5" y1="150.9" x2="675.2" y2="124.7" stroke="#707070" stroke-width="0.85"/>
<line x1="675.2" y1="124.7" x2="670.70" y2="123.75" stroke="#707070" stroke-width="0.9"/>
<line x1="675.2" y1="124.7" x2="671.58" y2="127.54" stroke="#707070" stroke-width="0.9"/>
<line x1="562.5" y1="150.9" x2="631.9" y2="155.1" stroke="#707070" stroke-width="0.85"/>
<line x1="631.9" y1="155.1" x2="627.86" y2="152.91" stroke="#707070" stroke-width="0.9"/>
<line x1="631.9" y1="155.1" x2="627.62" y2="156.79" stroke="#707070" stroke-width="0.9"/>
<line x1="562.5" y1="150.9" x2="629.3" y2="195" stroke="#707070" stroke-width="0.85"/>
<line x1="629.3" y1="195" x2="626.89" y2="191.08" stroke="#707070" stroke-width="0.9"/>
<line x1="629.3" y1="195" x2="624.75" y2="194.33" stroke="#707070" stroke-width="0.9"/>
<text x="444.8" y="169.1" font-size="10" text-anchor="start" fill="#222" >SST</text>
<text x="646.7" y="122.7" font-size="10" text-anchor="start" fill="#222" >Nitrate</text>
<text x="617.6" y="152.3" font-size="10" text-anchor="start" fill="#222" >Chla</text>
<text x="617.6" y="187.1" font-size="10" text-anchor="start" fill="#222" >Silicate</text>
<path d="M412.5,0.5 V301.5 H793.5 V0.5" fill="none" stroke="#383838" stroke-width="1"/>
<line x1="412.0" y1="0.5" x2="794.0" y2="0.5" stroke="#707070" stroke-width="1.1"/>
<line x1="423.6" y1="301.5" x2="423.6" y2="307.5" stroke="#383838" stroke-width="1"/>
<line x1="412.5" y1="289.7" x2="406.5" y2="289.7" stroke="#383838" stroke-width="1"/>
<text x="423.6" y="323.8" font-size="9.9" text-anchor="middle" fill="#222" >−1.5</text>
<text x="0" y="0" font-size="9.9" text-anchor="middle" fill="#222" transform="translate(398.2,289.7) rotate(-90)">−1.5</text>
<line x1="469.9" y1="301.5" x2="469.9" y2="307.5" stroke="#383838" stroke-width="1"/>
<line x1="412.5" y1="243.4" x2="406.5" y2="243.4" stroke="#383838" stroke-width="1"/>
<text x="469.9" y="323.8" font-size="9.9" text-anchor="middle" fill="#222" >−1.0</text>
<text x="0" y="0" font-size="9.9" text-anchor="middle" fill="#222" transform="translate(398.2,243.4) rotate(-90)">−1.0</text>
<line x1="516.2" y1="301.5" x2="516.2" y2="307.5" stroke="#383838" stroke-width="1"/>
<line x1="412.5" y1="197.1" x2="406.5" y2="197.1" stroke="#383838" stroke-width="1"/>
<text x="516.2" y="323.8" font-size="9.9" text-anchor="middle" fill="#222" >−0.5</text>
<text x="0" y="0" font-size="9.9" text-anchor="middle" fill="#222" transform="translate(398.2,197.1) rotate(-90)">−0.5</text>
<line x1="562.5" y1="301.5" x2="562.5" y2="307.5" stroke="#383838" stroke-width="1"/>
<line x1="412.5" y1="150.8" x2="406.5" y2="150.8" stroke="#383838" stroke-width="1"/>
<text x="562.5" y="323.8" font-size="9.9" text-anchor="middle" fill="#222" >0.0</text>
<text x="0" y="0" font-size="9.9" text-anchor="middle" fill="#222" transform="translate(398.2,150.8) rotate(-90)">0.0</text>
<line x1="608.7" y1="301.5" x2="608.7" y2="307.5" stroke="#383838" stroke-width="1"/>
<line x1="412.5" y1="104.6" x2="406.5" y2="104.6" stroke="#383838" stroke-width="1"/>
<text x="608.7" y="323.8" font-size="9.9" text-anchor="middle" fill="#222" >0.5</text>
<text x="0" y="0" font-size="9.9" text-anchor="middle" fill="#222" transform="translate(398.2,104.6) rotate(-90)">0.5</text>
<line x1="655.0" y1="301.5" x2="655.0" y2="307.5" stroke="#383838" stroke-width="1"/>
<line x1="412.5" y1="58.3" x2="406.5" y2="58.3" stroke="#383838" stroke-width="1"/>
<text x="655.0" y="323.8" font-size="9.9" text-anchor="middle" fill="#222" >1.0</text>
<text x="0" y="0" font-size="9.9" text-anchor="middle" fill="#222" transform="translate(398.2,58.3) rotate(-90)">1.0</text>
<line x1="701.3" y1="301.5" x2="701.3" y2="307.5" stroke="#383838" stroke-width="1"/>
<line x1="412.5" y1="12.0" x2="406.5" y2="12.0" stroke="#383838" stroke-width="1"/>
<text x="701.3" y="323.8" font-size="9.9" text-anchor="middle" fill="#222" >1.5</text>
<text x="0" y="0" font-size="9.9" text-anchor="middle" fill="#222" transform="translate(398.2,12.0) rotate(-90)">1.5</text>
<text x="0" y="0" font-size="10" text-anchor="middle" fill="#222" transform="translate(374.4,150.7) rotate(-90)">RDA2 20.6%</text>
<text x="562.3" y="348.1" font-size="10" text-anchor="middle" fill="#222" >RDA1 56.5%</text>
<text x="416.7" y="23.9" font-size="17.5" font-weight="bold" fill="#111" style="font-family:'Liberation Serif',serif">(B)</text>
<rect x="700" y="1" width="93" height="52" fill="#fff"/>
<text x="735.8" y="12.9" font-size="9.8" textLength="34.9" lengthAdjust="spacingAndGlyphs" fill="#111" style="stroke:#111;stroke-width:0.3">Neutrals</text>
<text x="735.8" y="25.4" font-size="9.8" textLength="5.3" lengthAdjust="spacingAndGlyphs" fill="#111" style="stroke:#111;stroke-width:0.3">F</text>
<text x="744.9" y="25.4" font-size="9.8" textLength="5.5" lengthAdjust="spacingAndGlyphs" fill="#111" style="stroke:#111;stroke-width:0.3">=</text>
<text x="753" y="25.4" font-size="9.8" textLength="17.7" lengthAdjust="spacingAndGlyphs" fill="#111" style="stroke:#111;stroke-width:0.3">2.38</text>
<text x="735.8" y="37.4" font-size="9.8" textLength="5.6" lengthAdjust="spacingAndGlyphs" fill="#111" style="stroke:#111;stroke-width:0.3">R</text>
<text x="741.8" y="34.5" font-size="5.2" textLength="10.4" lengthAdjust="spacingAndGlyphs" fill="#111" style="stroke:#111;stroke-width:0.1">adj2</text>
<rect x="753.8" y="32.8" width="5.4" height="3.4" fill="#777"/>
<text x="760.7" y="37.4" font-size="9.8" textLength="22.9" lengthAdjust="spacingAndGlyphs" fill="#111" style="stroke:#111;stroke-width:0.3">0.036</text>
<text x="735.8" y="48.5" font-size="9.8" textLength="37.3" lengthAdjust="spacingAndGlyphs" fill="#111" style="stroke:#111;stroke-width:0.3">p &lt; 0.001</text>
<rect x="714" y="287" width="80" height="14" fill="#fff"/>
<defs><linearGradient id="oc" x1="0" y1="0" x2="1" y2="0"><stop offset="0" stop-color="#c4d7f1"/><stop offset="0.07" stop-color="#d3e0f4"/><stop offset="0.35" stop-color="#ecf2fa"/><stop offset="1" stop-color="#f4f7fc"/></linearGradient><linearGradient id="oc2" x1="0" y1="0" x2="0" y2="1"><stop offset="0" stop-color="#b9cfee" stop-opacity="0.1"/><stop offset="0.5" stop-color="#b9cfee" stop-opacity="0"/><stop offset="1" stop-color="#b9cfee" stop-opacity="0.4"/></linearGradient></defs>
<rect x="715.5" y="53.5" width="77.5" height="233.8" fill="url(#oc)"/>
<rect x="715.5" y="53.5" width="77.5" height="233.8" fill="url(#oc2)"/>
<line x1="754.8" y1="53.5" x2="754.8" y2="287.3" stroke="#dfe4ec" stroke-width="0.6"/>
<line x1="715.5" y1="100.4" x2="793" y2="100.4" stroke="#dfe4ec" stroke-width="0.6"/>
<line x1="715.5" y1="147.3" x2="793" y2="147.3" stroke="#dfe4ec" stroke-width="0.6"/>
<line x1="715.5" y1="194" x2="793" y2="194" stroke="#dfe4ec" stroke-width="0.6"/>
<line x1="715.5" y1="241" x2="793" y2="241" stroke="#dfe4ec" stroke-width="0.6"/>
<polygon points="774,287 766.8,276 762.4,266 763.9,256 766.8,246 769,236 771.1,225 774.1,215 778.1,205 781.2,195 785.2,185 784.2,175 781.2,165 781.2,160 783.2,150 785.2,140 791.2,130 793,120 794,120 794,287" fill="#e6e8e5"/>
<polygon points="782,53.5 781,60 780.5,70 779.8,80 777.5,83 777,90 778.7,100 778.1,110 776.1,120 772.1,130 769.1,140 768.1,150 769.1,160 768.7,165 767.1,175 764,185 759,195 754,205 749,210 747.6,215 749,220 748.4,230 747.6,240 744.8,250 744,257 747,261 741.5,264 740.5,268 741.5,272 748,273 749,277 744,279 738,281 736,284 737,287 774,287 766.8,276 762.4,266 763.9,256 766.8,246 769,236 771.1,225 774.1,215 778.1,205 781.2,195 785.2,185 784.2,175 781.2,165 781.2,160 783.2,150 785.2,140 791.2,130 793,120 793,53.5" fill="#939393" stroke="#8a8a8a" stroke-width="0.6"/>
<polygon points="749.5,256 757,254 761,257 759,263 755,265 754,272 752,278 750,276 750.5,268 749,262" fill="#d3e1f4"/>
<rect x="715.5" y="53.5" width="77.5" height="233.8" fill="none" stroke="#666" stroke-width="0.9"/>
<text x="713" y="58.0" font-size="5" text-anchor="end" fill="#222" style="stroke-width:0.15">-20</text>
<text x="713" y="102.1" font-size="5" text-anchor="end" fill="#222" style="stroke-width:0.15">-25</text>
<text x="713" y="149.0" font-size="5" text-anchor="end" fill="#222" style="stroke-width:0.15">-30</text>
<text x="713" y="195.7" font-size="5" text-anchor="end" fill="#222" style="stroke-width:0.15">-35</text>
<text x="713" y="242.7" font-size="5" text-anchor="end" fill="#222" style="stroke-width:0.15">-40</text>
<text x="713" y="287.7" font-size="5" text-anchor="end" fill="#222" style="stroke-width:0.15">-45</text>
<text x="715.5" y="294.3" font-size="5" text-anchor="middle" fill="#222" style="stroke-width:0.15">-77</text>
<text x="754.3" y="294.3" font-size="5" text-anchor="middle" fill="#222" style="stroke-width:0.15">-73</text>
<text x="755" y="299.3" font-size="5.2" text-anchor="middle" fill="#222" style="stroke-width:0.15">Longitude</text>
<text x="0" y="0" font-size="4.8" text-anchor="middle" fill="#222" style="stroke-width:0.12" transform="translate(702,169.7) rotate(-90)">Latitude</text>
<text x="0" y="0" font-size="4.1" text-anchor="middle" fill="#222" style="stroke-width:0.12" transform="translate(725.1,168) rotate(-90)">Pacific Ocean</text>
<text x="774.9" y="187.6" font-size="8.8" text-anchor="middle" fill="#222">Chile</text>
<circle cx="750.5" cy="239.1" r="1.6" fill="#fff" stroke="#bbb" stroke-width="0.5"/>
<circle cx="775.9" cy="109.2" r="4.6" fill="#e31a1c" stroke="#333" stroke-width="0.6"/>
<text x="775.9" y="111.2" font-size="5.5" text-anchor="middle" fill="#222" style="stroke:#222;stroke-width:0.15">PA</text>
<circle cx="771.2" cy="124.7" r="4.6" fill="#f28c14" stroke="#333" stroke-width="0.6"/>
<text x="771.2" y="126.7" font-size="5.5" text-anchor="middle" fill="#222" style="stroke:#222;stroke-width:0.15">CP</text>
<circle cx="768.3" cy="145.4" r="4.6" fill="#e8dc48" stroke="#333" stroke-width="0.6"/>
<text x="768.3" y="147.4" font-size="5.5" text-anchor="middle" fill="#222" style="stroke:#222;stroke-width:0.15">LH</text>
<circle cx="754.1" cy="209.3" r="4.6" fill="#c0399c" stroke="#333" stroke-width="0.6"/>
<text x="754.1" y="211.3" font-size="5.5" text-anchor="middle" fill="#222" style="stroke:#222;stroke-width:0.15">TA</text>
<circle cx="744.3" cy="257.1" r="4.6" fill="#262d8a" stroke="#333" stroke-width="0.6"/>
<text x="744.3" y="259.1" font-size="5.5" text-anchor="middle" fill="#fff" style="stroke:#fff;stroke-width:0.15">AC</text>
<line x1="793.5" y1="1" x2="793.5" y2="301.5" stroke="#505050" stroke-width="1"/>
<line x1="700" y1="301.5" x2="794" y2="301.5" stroke="#383838" stroke-width="1"/>
</svg></body></html>
